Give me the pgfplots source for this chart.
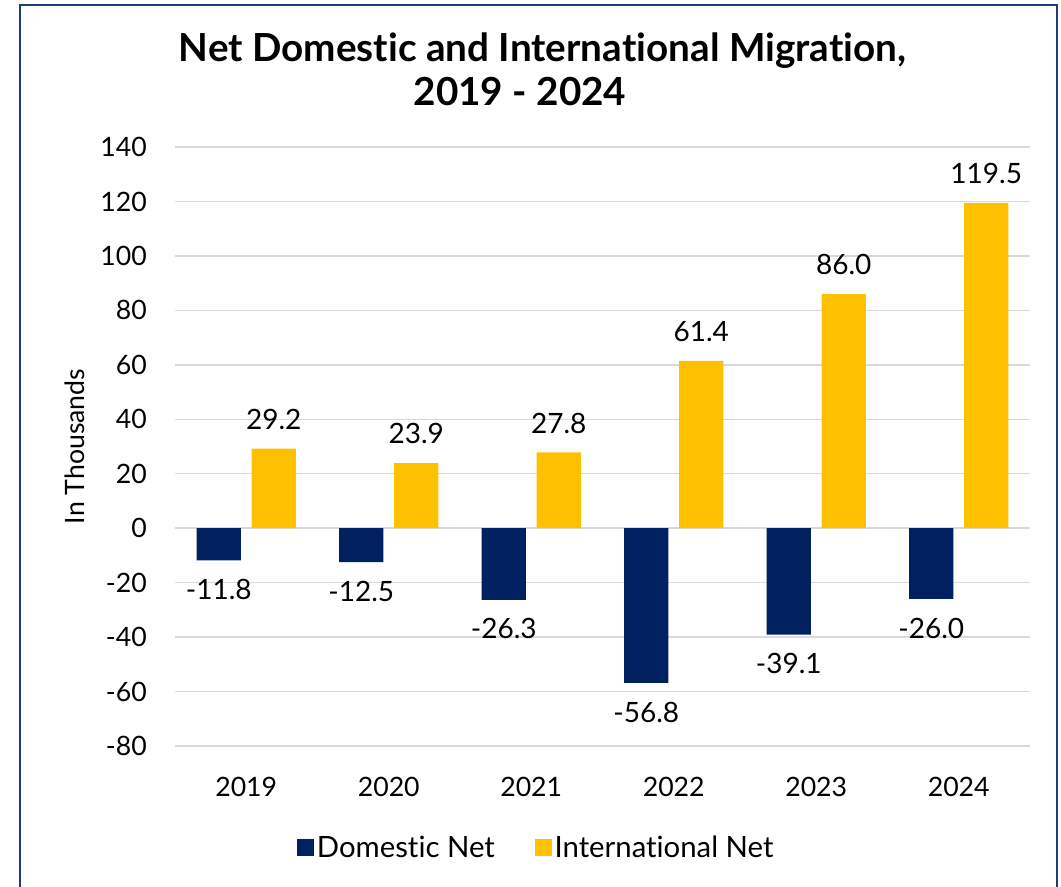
\documentclass[border=0pt]{standalone}
\usepackage{pgfplots}
\pgfplotsset{compat=1.18}
\usepackage{fontspec}
\setmainfont[Ligatures={NoCommon,NoDiscretionary}]{Lato}
\definecolor{navy}{HTML}{002060}
\definecolor{gold}{HTML}{FFC000}
\definecolor{framec}{HTML}{1F3A78}
\definecolor{gridc}{HTML}{D9D9D9}
\begin{document}
\begin{tikzpicture}
\path[use as bounding box] (0,0) rectangle (795.75pt,665.25pt);
\draw[framec, line width=1.5pt] (15pt,-10pt) -- (15pt,661.5pt) -- (792.75pt,661.5pt) -- (792.75pt,-10pt);
\node[font=\bfseries\fontsize{29}{34}\selectfont, anchor=base, inner sep=0pt] at (406.9pt,618.75pt) {Net Domestic and International Migration,};
\node[font=\bfseries\fontsize{29}{34}\selectfont, anchor=base, inner sep=0pt] at (390pt,585.75pt) {2019 - 2024};
\begin{axis}[
  at={(131.25pt,105.75pt)}, anchor=south west,
  scale only axis, width=641.25pt, height=449.25pt,
  ymin=-80, ymax=140, xmin=-0.5, xmax=5.5,
  ytick={-80,-60,...,140},
  xtick={0,...,5}, xticklabels={2019,2020,2021,2022,2023,2024},
  ymajorgrids, major grid style={gridc, line width=1.1pt},
  axis line style={draw=none}, major tick length=0pt,
  tick style={draw=none},
  /pgf/number format/assume math mode=true,
  tick label style={font=\fontsize{20}{24}\selectfont},
  yticklabel style={anchor=east, inner sep=0pt, xshift=-21pt},
  xticklabel style={anchor=north, inner sep=0pt, yshift=-23pt},
  ylabel={In Thousands},
  ylabel style={at={(axis description cs:-0.117,0.5)}, anchor=center, font=\fontsize{20}{24}\selectfont},
  ybar, bar width=0.31,
  nodes near coords,
  nodes near coords style={font=\fontsize{21}{24}\selectfont, inner sep=14pt,
    /pgf/number format/fixed, /pgf/number format/fixed zerofill, /pgf/number format/precision=1, /pgf/number format/assume math mode=true},
  legend style={at={(0.423,-0.17)}, anchor=center, legend columns=2, draw=none, font=\fontsize{22}{26}\selectfont,
    /tikz/every even column/.append style={column sep=28pt}},
  legend image code/.code={\fill[#1] (0pt,-6.4pt) rectangle (12.8pt,6.4pt);},
]
\addplot[fill=navy, draw=none, bar shift=-0.193] coordinates {(0,-11.8) (1,-12.5) (2,-26.3) (3,-56.8) (4,-39.1) (5,-26.0)};
\addplot[fill=gold, draw=none, bar shift=0.193] coordinates {(0,29.2) (1,23.9) (2,27.8) (3,61.4) (4,86.0) (5,119.5)};
\legend{Domestic Net, International Net}
\end{axis}
\end{tikzpicture}
\end{document}
